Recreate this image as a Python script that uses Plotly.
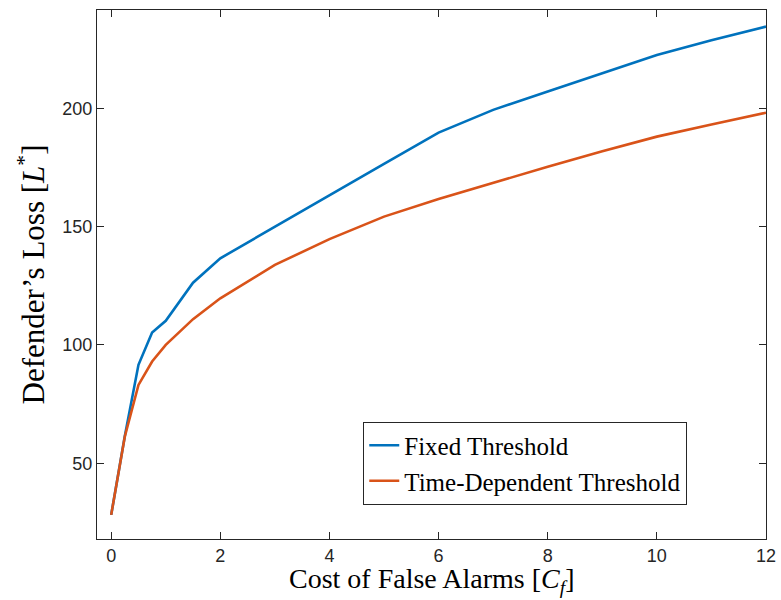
import plotly.graph_objects as go

# Cost of false alarms (x) and defender's loss for the two threshold policies
cost_false_alarms = [0, 0.25, 0.5, 0.75, 1, 1.5, 2, 3, 4, 5, 6, 7, 8, 9, 10, 11, 12]
loss_fixed = [28.2, 61.5, 91.6, 105.2, 110.2, 126.3, 136.6, 150.0, 163.4, 176.5, 189.7,
              199.3, 207.1, 214.9, 222.5, 228.7, 234.5]
loss_time_dep = [28.2, 61.3, 83.1, 93.0, 100.0, 110.9, 119.7, 133.8, 144.7, 154.2, 161.6,
                 168.5, 175.3, 181.8, 188.0, 193.1, 198.1]

x_ticks = [0, 2, 4, 6, 8, 10, 12]
y_ticks = [50, 100, 150, 200]

BLUE = "#0072BD"
ORANGE = "#D95319"
AXIS = "#262626"
SERIF = "Liberation Serif, DejaVu Serif, serif"
SANS = "Liberation Sans, Arial, sans-serif"

fig = go.Figure()
fig.add_trace(go.Scatter(x=cost_false_alarms, y=loss_fixed, mode="lines",
                         name="Fixed Threshold", line=dict(color=BLUE, width=2.6)))
fig.add_trace(go.Scatter(x=cost_false_alarms, y=loss_time_dep, mode="lines",
                         name="Time-Dependent Threshold", line=dict(color=ORANGE, width=2.6)))

axis_common = dict(
    showgrid=False, zeroline=False, showline=True, linecolor=AXIS, linewidth=1,
    mirror="ticks", ticks="inside", ticklen=7, tickwidth=1, tickcolor=AXIS,
    tickfont=dict(family=SANS, size=18, color=AXIS), automargin=False,
)

fig.update_layout(
    width=781, height=600,
    margin=dict(l=97, r=15, t=10, b=61),
    paper_bgcolor="white", plot_bgcolor="white",
    xaxis=dict(range=[-0.26, 12], tickvals=x_ticks, ticktext=[str(v) for v in x_ticks],
               **axis_common),
    yaxis=dict(range=[18, 241.5], tickvals=y_ticks, ticktext=[str(v) for v in y_ticks],
               title=dict(text="Defender’s Loss [<i>L</i><sup>*</sup>]",
                          font=dict(family=SERIF, size=31, color="black"), standoff=8),
               **axis_common),
    legend=dict(x=0.398, y=0.222, xanchor="left", yanchor="top",
                bgcolor="white", bordercolor=AXIS, borderwidth=1,
                font=dict(family=SERIF, size=25, color="black")),
    showlegend=True,
)

# x-axis title placed just under the tick labels
fig.add_annotation(
    text="Cost of False Alarms [<i>C</i><sub><i>f</i></sub>]",
    xref="paper", yref="paper", x=0.5, y=-0.1145, xanchor="center", yanchor="bottom",
    showarrow=False, font=dict(family=SERIF, size=28, color="black"),
)

fig.write_html("out.html")
